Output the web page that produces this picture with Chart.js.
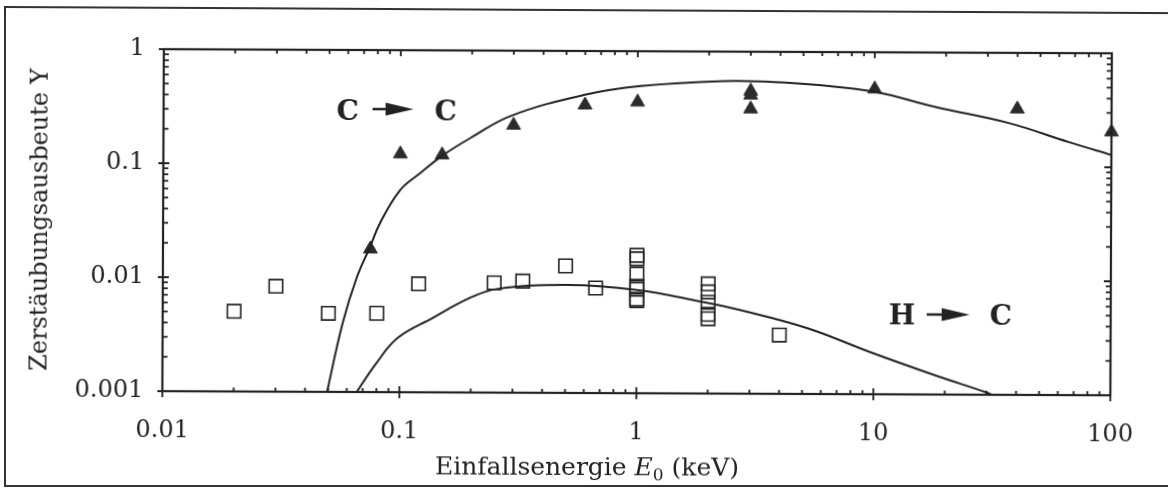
<!DOCTYPE html>
<html><head><meta charset="utf-8">
<script src="https://cdn.jsdelivr.net/npm/chart.js@4.4.1/dist/chart.umd.min.js"></script>
<style>
html,body{margin:0;padding:0;background:#fff;overflow:hidden}
#wrap{width:1168px;height:489px;position:relative;overflow:hidden;background:#fff}
#c{position:absolute;left:0;top:0;transform:rotate(0.25deg);transform-origin:584px 244.5px}
#frame{position:absolute;left:4px;top:6px;width:1300px;height:479px;border-left:2px solid #333;border-bottom:2px solid #333;pointer-events:none}
#frameTop{position:absolute;left:4px;top:6px;width:1300px;height:0;border-top:2px solid #333;transform:rotate(0.3deg);transform-origin:0 0;pointer-events:none}
</style>
</head><body><div id="wrap"><canvas id="c" width="1168" height="489"></canvas><div id="frame"></div><div id="frameTop"></div></div>
<script>
// ---- data ----
// C -> C measured yields (filled triangles)
const energyCC = [0.075, 0.10, 0.15, 0.30, 0.60, 1.0, 3.0, 3.0, 3.0, 10, 40, 100];
const yieldCC  = [0.0180, 0.123, 0.121, 0.222, 0.336, 0.358, 0.452, 0.417, 0.315, 0.476, 0.322, 0.204];
// H -> C measured yields (open squares)
const energyHC = [0.02, 0.03, 0.05, 0.08, 0.12, 0.25, 0.33, 0.5, 0.67, 1, 1, 1, 1, 1, 1, 1, 2, 2, 2, 2, 2, 4];
const yieldHC  = [0.00505, 0.00841, 0.00489, 0.00491, 0.00893, 0.00919, 0.00953, 0.0130, 0.00834,
                  0.0162, 0.0151, 0.0111, 0.00868, 0.00816, 0.00669, 0.00649,
                  0.00916, 0.00779, 0.00632, 0.00495, 0.00453, 0.00328];
// fitted curves
const curveCC_E = [0.049, 0.0575, 0.0659, 0.0747, 0.0823, 0.1, 0.1215, 0.1517, 0.1974, 0.2911, 0.592, 1.03, 2.307, 3.749, 5.802, 10.1, 18.09, 36.77, 65.86, 100];
const curveCC_Y = [0.0009, 0.00403, 0.0102, 0.0187, 0.0304, 0.0594, 0.0838, 0.1208, 0.1708, 0.2673, 0.4111, 0.4956, 0.5522, 0.5437, 0.5136, 0.4481, 0.3328, 0.2425, 0.1660, 0.1282];
const curveHC_E = [0.065, 0.080, 0.0981, 0.1378, 0.1974, 0.2566, 0.5067, 1.0, 1.899, 2.720, 5.216, 9.90, 18.99, 30.27, 33];
const curveHC_Y = [0.00095, 0.00180, 0.00299, 0.00449, 0.00675, 0.00811, 0.00885, 0.00805, 0.00635, 0.00542, 0.00379, 0.00230, 0.00143, 0.00104, 0.00095];
// axis ticks
const xTickValues = [0.01, 0.1, 1, 10, 100];
const xTickLabels = ['0.01', '0.1', '1', '10', '100'];
const yTickValues = [0.001, 0.01, 0.1, 1];
const yTickLabels = ['0.001', '0.01', '0.1', '1'];

const INK = '#222';
const SERIF = "'DejaVu Serif', 'Liberation Serif', serif";

const pts = (xs, ys) => xs.map((x, i) => ({x, y: ys[i]}));

function drawArrow(ctx, x1, x2, y) {
  const head = 28, half = 6.5;
  ctx.save();
  ctx.strokeStyle = INK; ctx.fillStyle = INK; ctx.lineWidth = 2.5;
  ctx.beginPath(); ctx.moveTo(x1, y); ctx.lineTo(x2 - head + 2, y); ctx.stroke();
  ctx.beginPath(); ctx.moveTo(x2 - head, y - half); ctx.lineTo(x2, y); ctx.lineTo(x2 - head, y + half); ctx.closePath(); ctx.fill();
  ctx.restore();
}

const decorPlugin = {
  id: 'decor',
  afterDraw(chart) {
    const ctx = chart.ctx;
    const {left, right, top, bottom} = chart.chartArea;
    const xs = chart.scales.x, ys = chart.scales.y;
    ctx.save();
    // plot box
    ctx.strokeStyle = INK; ctx.lineWidth = 2.2;
    ctx.strokeRect(left, top, right - left, bottom - top);
    // ticks
    ctx.lineWidth = 1.8;
    ctx.beginPath();
    for (let e = -2; e <= 2; e++) {
      for (let k = 1; k <= 9; k++) {
        const v = k * Math.pow(10, e);
        if (v > 100.0001) continue;
        const px = xs.getPixelForValue(v);
        if (k === 1) {
          ctx.moveTo(px, bottom + 6); ctx.lineTo(px, bottom - 6);
          ctx.moveTo(px, top); ctx.lineTo(px, top + 6);
        } else {
          ctx.moveTo(px, bottom); ctx.lineTo(px, bottom - 4);
          ctx.moveTo(px, top); ctx.lineTo(px, top + 4);
        }
      }
    }
    for (let e = -3; e <= 0; e++) {
      for (let k = 1; k <= 9; k++) {
        const v = k * Math.pow(10, e);
        if (v > 1.0001) continue;
        const py = ys.getPixelForValue(v);
        if (k === 1) {
          ctx.moveTo(left - 5, py); ctx.lineTo(left + 6, py);
          ctx.moveTo(right, py); ctx.lineTo(right - 7, py);
        } else {
          ctx.moveTo(left, py); ctx.lineTo(left + 5, py);
          ctx.moveTo(right, py); ctx.lineTo(right - 5, py);
        }
      }
    }
    ctx.stroke();

    // curve labels
    ctx.fillStyle = INK;
    ctx.textBaseline = 'alphabetic'; ctx.textAlign = 'left';
    ctx.font = "bold 28px " + SERIF;
    ctx.fillText('C', 336, 121);
    drawArrow(ctx, 372, 413, 110);
    ctx.fillText('C', 434, 121);
    ctx.fillText('H', 889, 323);
    drawArrow(ctx, 927, 970, 313);
    ctx.fillText('C', 990, 323);

    // x-axis title with italic E and subscript 0
    const fMain = "25px " + SERIF, fIt = "italic 25px " + SERIF, fSub = "17px " + SERIF;
    const parts = [['Einfallsenergie ', fMain, 0], ['E', fIt, 0], ['0', fSub, 5], [' (keV)', fMain, 0]];
    let w = 0;
    parts.forEach(p => { ctx.font = p[1]; w += ctx.measureText(p[0]).width; });
    let x = 588 - w / 2;
    parts.forEach(p => { ctx.font = p[1]; ctx.fillText(p[0], x, 475 + p[2]); x += ctx.measureText(p[0]).width; });
    ctx.restore();
  }
};

new Chart(document.getElementById('c'), {
  type: 'scatter',
  data: {
    datasets: [
      { label: 'C-C fit', data: pts(curveCC_E, curveCC_Y), showLine: true, borderColor: INK, borderWidth: 2,
        pointRadius: 0, tension: 0.4, fill: false },
      { label: 'H-C fit', data: pts(curveHC_E, curveHC_Y), showLine: true, borderColor: INK, borderWidth: 2,
        pointRadius: 0, tension: 0.4, fill: false },
      { label: 'C -> C', data: pts(energyCC, yieldCC), pointStyle: 'triangle', pointRadius: 8,
        backgroundColor: '#2b2b2b', borderColor: '#2b2b2b', borderWidth: 1, clip: false },
      { label: 'H -> C', data: pts(energyHC, yieldHC), pointStyle: 'rect', pointRadius: 9.5,
        backgroundColor: 'rgba(0,0,0,0)', borderColor: INK, borderWidth: 1.6, clip: false }
    ]
  },
  options: {
    responsive: false, animation: false, devicePixelRatio: 1,
    layout: { padding: { left: 0, top: 51, right: 57, bottom: 0 } },
    plugins: { legend: { display: false }, tooltip: { enabled: false } },
    scales: {
      x: {
        type: 'logarithmic', min: 0.01, max: 100, position: 'bottom',
        grid: { display: false, drawTicks: false }, border: { display: false },
        afterBuildTicks: s => { s.ticks = xTickValues.map(v => ({ value: v })); },
        afterFit: s => { s.height = 96; },
        ticks: { autoSkip: false, maxRotation: 0, padding: 25, color: INK,
                 font: { family: SERIF, size: 24 },
                 callback: (v, i) => xTickLabels[i] }
      },
      y: {
        type: 'logarithmic', min: 0.001, max: 1, position: 'left',
        grid: { display: false, drawTicks: false }, border: { display: false },
        afterBuildTicks: s => { s.ticks = yTickValues.map(v => ({ value: v })); },
        afterFit: s => { s.width = 163; },
        ticks: { autoSkip: false, padding: 19, color: INK,
                 font: { family: SERIF, size: 24 },
                 callback: (v, i) => yTickLabels[i] },
        title: { display: true, text: 'Zerstäubungsausbeute Y', color: INK,
                 font: { family: SERIF, size: 24 }, padding: { top: 26, bottom: 0 } }
      }
    }
  },
  plugins: [decorPlugin]
});
</script></body></html>
